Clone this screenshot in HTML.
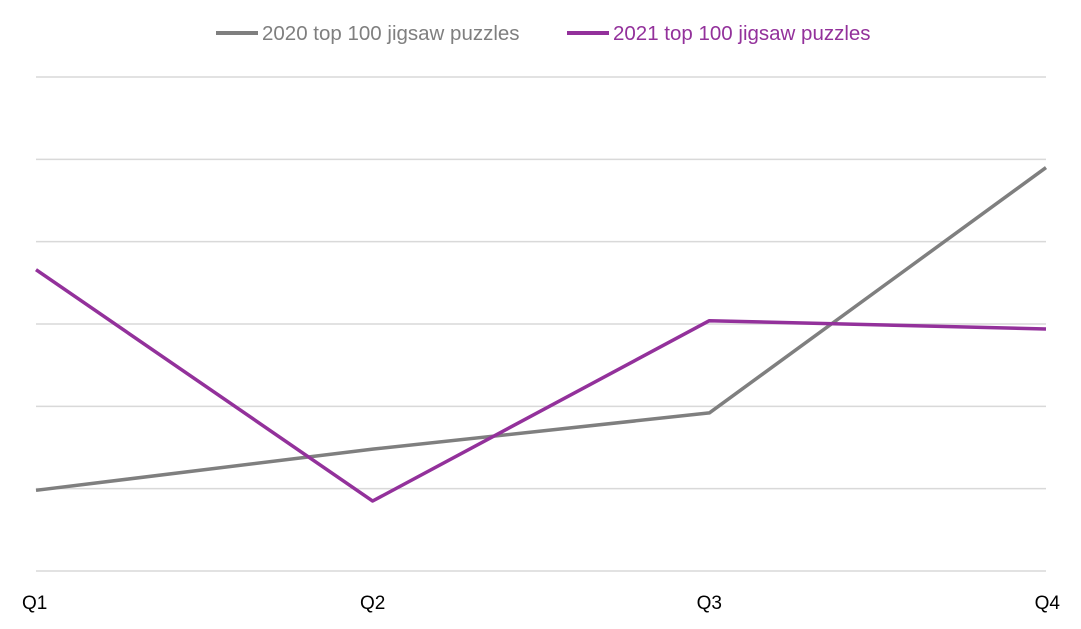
<!DOCTYPE html>
<html><head><meta charset="utf-8">
<style>
html,body{margin:0;padding:0;background:#fff;}
svg{display:block;font-family:"Liberation Sans",Arial,sans-serif;}
</style></head>
<body>
<svg id="chart" width="1081" height="629"></svg>
<script>
const categories = ["Q1","Q2","Q3","Q4"];
const seriesNames = ["2020 top 100 jigsaw puzzles","2021 top 100 jigsaw puzzles"];
const series2020 = [0.98, 1.48, 1.92, 4.9];
const series2021 = [3.66, 0.85, 3.04, 2.94];
const gridValues = [0,1,2,3,4,5,6];

const NS = "http://www.w3.org/2000/svg";
const svg = document.getElementById("chart");
const x0 = 36, x1 = 1046, yBase = 571, yTop = 77, yMax = 6;
function xs(i){ return x0 + i*(x1-x0)/(categories.length-1); }
function ys(v){ return yBase - v*(yBase-yTop)/yMax; }
function mk(tag, attrs){ const e=document.createElementNS(NS,tag); for(const k in attrs) e.setAttribute(k,attrs[k]); svg.appendChild(e); return e; }

gridValues.forEach(v=>{
  const l = mk("line",{x1:x0,x2:x1,y1:ys(v),y2:ys(v),stroke:"#d9d9d9","stroke-width":1.5});
  
  
});
categories.forEach((c,i)=>{
  const anchor = i===0 ? "start" : (i===categories.length-1 ? "end" : "middle");
  const xx = i===0 ? 22 : (i===categories.length-1 ? 1060 : xs(i));
  const t = mk("text",{x:xx,y:609,"font-size":19,fill:"#000","text-anchor":anchor});
  t.textContent = c;
  
  
});
function drawLine(data,color,name){
  const p = mk("polyline",{points:data.map((v,i)=>xs(i)+","+ys(v)).join(" "),fill:"none",stroke:color,"stroke-width":3.5,"stroke-linejoin":"round"});
  
  
}
drawLine(series2020,"#7f7f7f","series-2020-line");
drawLine(series2021,"#93319b","series-2021-line");

const legend = [[216,"#7f7f7f",seriesNames[0]],[567,"#93319b",seriesNames[1]]];
legend.forEach(([lx,col,name])=>{
  const l = mk("line",{x1:lx,x2:lx+42,y1:33,y2:33,stroke:col,"stroke-width":4});
  
  
  const t = mk("text",{x:lx+46,y:40,"font-size":20.5,fill:col});
  t.textContent = name;
  
  
});
</script>
</body></html>
